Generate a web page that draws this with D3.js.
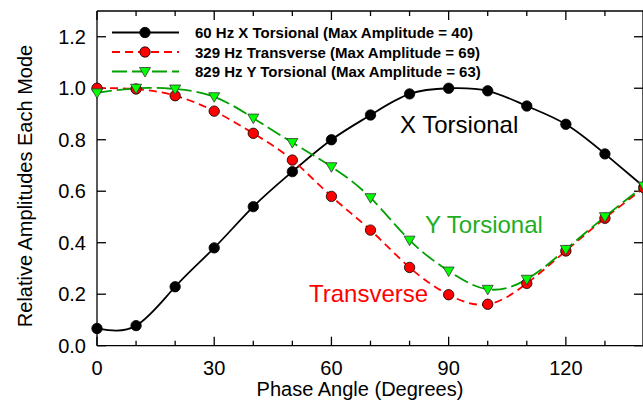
<!DOCTYPE html>
<html>
<head>
<meta charset="utf-8">
<script src="https://cdn.jsdelivr.net/npm/d3@7"></script>
<style>
body { margin: 0; background: #fff; }
svg { display: block; font-family: "Liberation Sans", Arial, sans-serif; }
</style>
</head>
<body>
<svg id="chart" width="643" height="404"></svg>
<script>
var angles = [0, 10, 20, 30, 40, 50, 60, 70, 80, 90, 100, 110, 120, 130, 140];
var xTorsional = [0.067, 0.078, 0.229, 0.38, 0.54, 0.676, 0.80, 0.896, 0.978, 1.0, 0.99, 0.931, 0.86, 0.745, 0.617];
var transverse = [1.0, 0.997, 0.971, 0.911, 0.825, 0.721, 0.58, 0.449, 0.304, 0.198, 0.161, 0.242, 0.368, 0.495, 0.613];
var yTorsional = [0.982, 1.0, 0.997, 0.967, 0.884, 0.789, 0.695, 0.575, 0.41, 0.29, 0.219, 0.258, 0.374, 0.501, 0.62];
var seriesNames = ["60 Hz X Torsional (Max Amplitude = 40)", "329 Hz Transverse (Max Amplitude = 69)", "829 Hz Y Torsional (Max Amplitude = 63)"];
var xTickLabels = [0, 30, 60, 90, 120];
var yTickLabels = [0.0, 0.2, 0.4, 0.6, 0.8, 1.0, 1.2];

var svg = d3.select("#chart");
var plotL = 97, plotR = 644, plotT = 11, plotB = 345.7;

var x = d3.scaleLinear().domain([0, 140]).range([plotL, plotR]);
var y = d3.scaleLinear().domain([0, 1.3]).range([plotB, plotT]);

var series = [
    { name: seriesNames[0], values: xTorsional, color: "#000", dash: null, marker: "circle", fill: "#000" },
    { name: seriesNames[1], values: transverse, color: "#ff0000", dash: "8,5", marker: "circle", fill: "#ff0000" },
    { name: seriesNames[2], values: yTorsional, color: "#00a000", dash: "15,5", marker: "tri", fill: "#00ff00" }
];

// axes: ticks point inward
var minorX = d3.range(0, 141, 10);
function xAxisAt(yPos, dir) {
    var g = svg.append("g");
    g.append("line").attr("x1", plotL).attr("x2", plotR).attr("y1", yPos).attr("y2", yPos)
        .attr("stroke", "#000").attr("stroke-width", 1.3);
    g.selectAll("line.t").data(minorX).enter().append("line")
        .attr("x1", function(d) { return x(d); }).attr("x2", function(d) { return x(d); })
        .attr("y1", yPos)
        .attr("y2", function(d) { return yPos + dir * (d % 30 === 0 ? 9 : 5); })
        .attr("stroke", "#000").attr("stroke-width", 1.3);
}
function yAxisAt(xPos, dir) {
    var g = svg.append("g");
    g.append("line").attr("x1", xPos).attr("x2", xPos).attr("y1", plotT).attr("y2", plotB)
        .attr("stroke", "#000").attr("stroke-width", 1.3);
    g.selectAll("line.t").data(yTickLabels).enter().append("line")
        .attr("y1", function(d) { return y(d); }).attr("y2", function(d) { return y(d); })
        .attr("x1", xPos).attr("x2", xPos + dir * 9)
        .attr("stroke", "#000").attr("stroke-width", 1.3);
}
xAxisAt(plotB, -1);
xAxisAt(plotT, 1);
yAxisAt(plotL, 1);
yAxisAt(plotR - 1, -1);

svg.selectAll("text.xt").data(xTickLabels).enter().append("text")
    .attr("x", function(d) { return x(d); }).attr("y", 375)
    .attr("text-anchor", "middle").attr("font-size", 20).text(function(d) { return d; });
svg.selectAll("text.yt").data(yTickLabels).enter().append("text")
    .attr("x", 86).attr("y", function(d) { return y(d) + 7; })
    .attr("text-anchor", "end").attr("font-size", 20).text(function(d) { return d.toFixed(1); });

svg.append("text").attr("x", 360).attr("y", 396).attr("text-anchor", "middle")
    .attr("font-size", 20).text("Phase Angle (Degrees)");
svg.append("text").attr("transform", "translate(32,186) rotate(-90)").attr("text-anchor", "middle")
    .attr("font-size", 20).text("Relative Amplitudes Each Mode");

var line = d3.line().curve(d3.curveNatural)
    .x(function(d, i) { return x(angles[i]); })
    .y(function(d) { return y(d); });

var tri = "M -5.5 -4 L 5.5 -4 L 0 5.5 Z";

function drawMarker(sel, s) {
    if (s.marker === "circle") {
        sel.append("circle").attr("r", 5.2).attr("fill", s.fill).attr("stroke", "#000").attr("stroke-width", 0.8);
    } else {
        sel.append("path").attr("d", tri).attr("fill", s.fill).attr("stroke", "#333").attr("stroke-width", 0.8);
    }
}

var plot = svg.append("g");
series.forEach(function(s) {
    plot.append("path").attr("d", line(s.values)).attr("fill", "none")
        .attr("stroke", s.color).attr("stroke-width", 1.8)
        .attr("stroke-dasharray", s.dash);
});
series.forEach(function(s) {
    plot.selectAll(null).data(s.values).enter().append("g")
        .attr("transform", function(d, i) { return "translate(" + x(angles[i]) + "," + y(d) + ")"; })
        .each(function() { drawMarker(d3.select(this), s); });
});

// legend
var legendY = [32.5, 52, 71.5];
series.forEach(function(s, i) {
    var g = svg.append("g").attr("transform", "translate(0," + legendY[i] + ")");
    g.append("line").attr("x1", 112).attr("x2", 179).attr("y1", 0).attr("y2", 0)
        .attr("stroke", s.color).attr("stroke-width", 1.8).attr("stroke-dasharray", s.dash);
    var m = g.append("g").attr("transform", "translate(145,0)");
    drawMarker(m, s);
    g.append("text").attr("x", 195).attr("y", 5.5).attr("font-size", 15).attr("font-weight", "bold")
        .text(s.name);
});

// annotations
svg.append("text").attr("x", 400).attr("y", 133).attr("font-size", 24).attr("fill", "#000").text("X Torsional");
svg.append("text").attr("x", 425).attr("y", 233).attr("font-size", 24).attr("fill", "#1eae1e").text("Y Torsional");
svg.append("text").attr("x", 309).attr("y", 302).attr("font-size", 24).attr("fill", "#ff0000").text("Transverse");
</script>
</body>
</html>
